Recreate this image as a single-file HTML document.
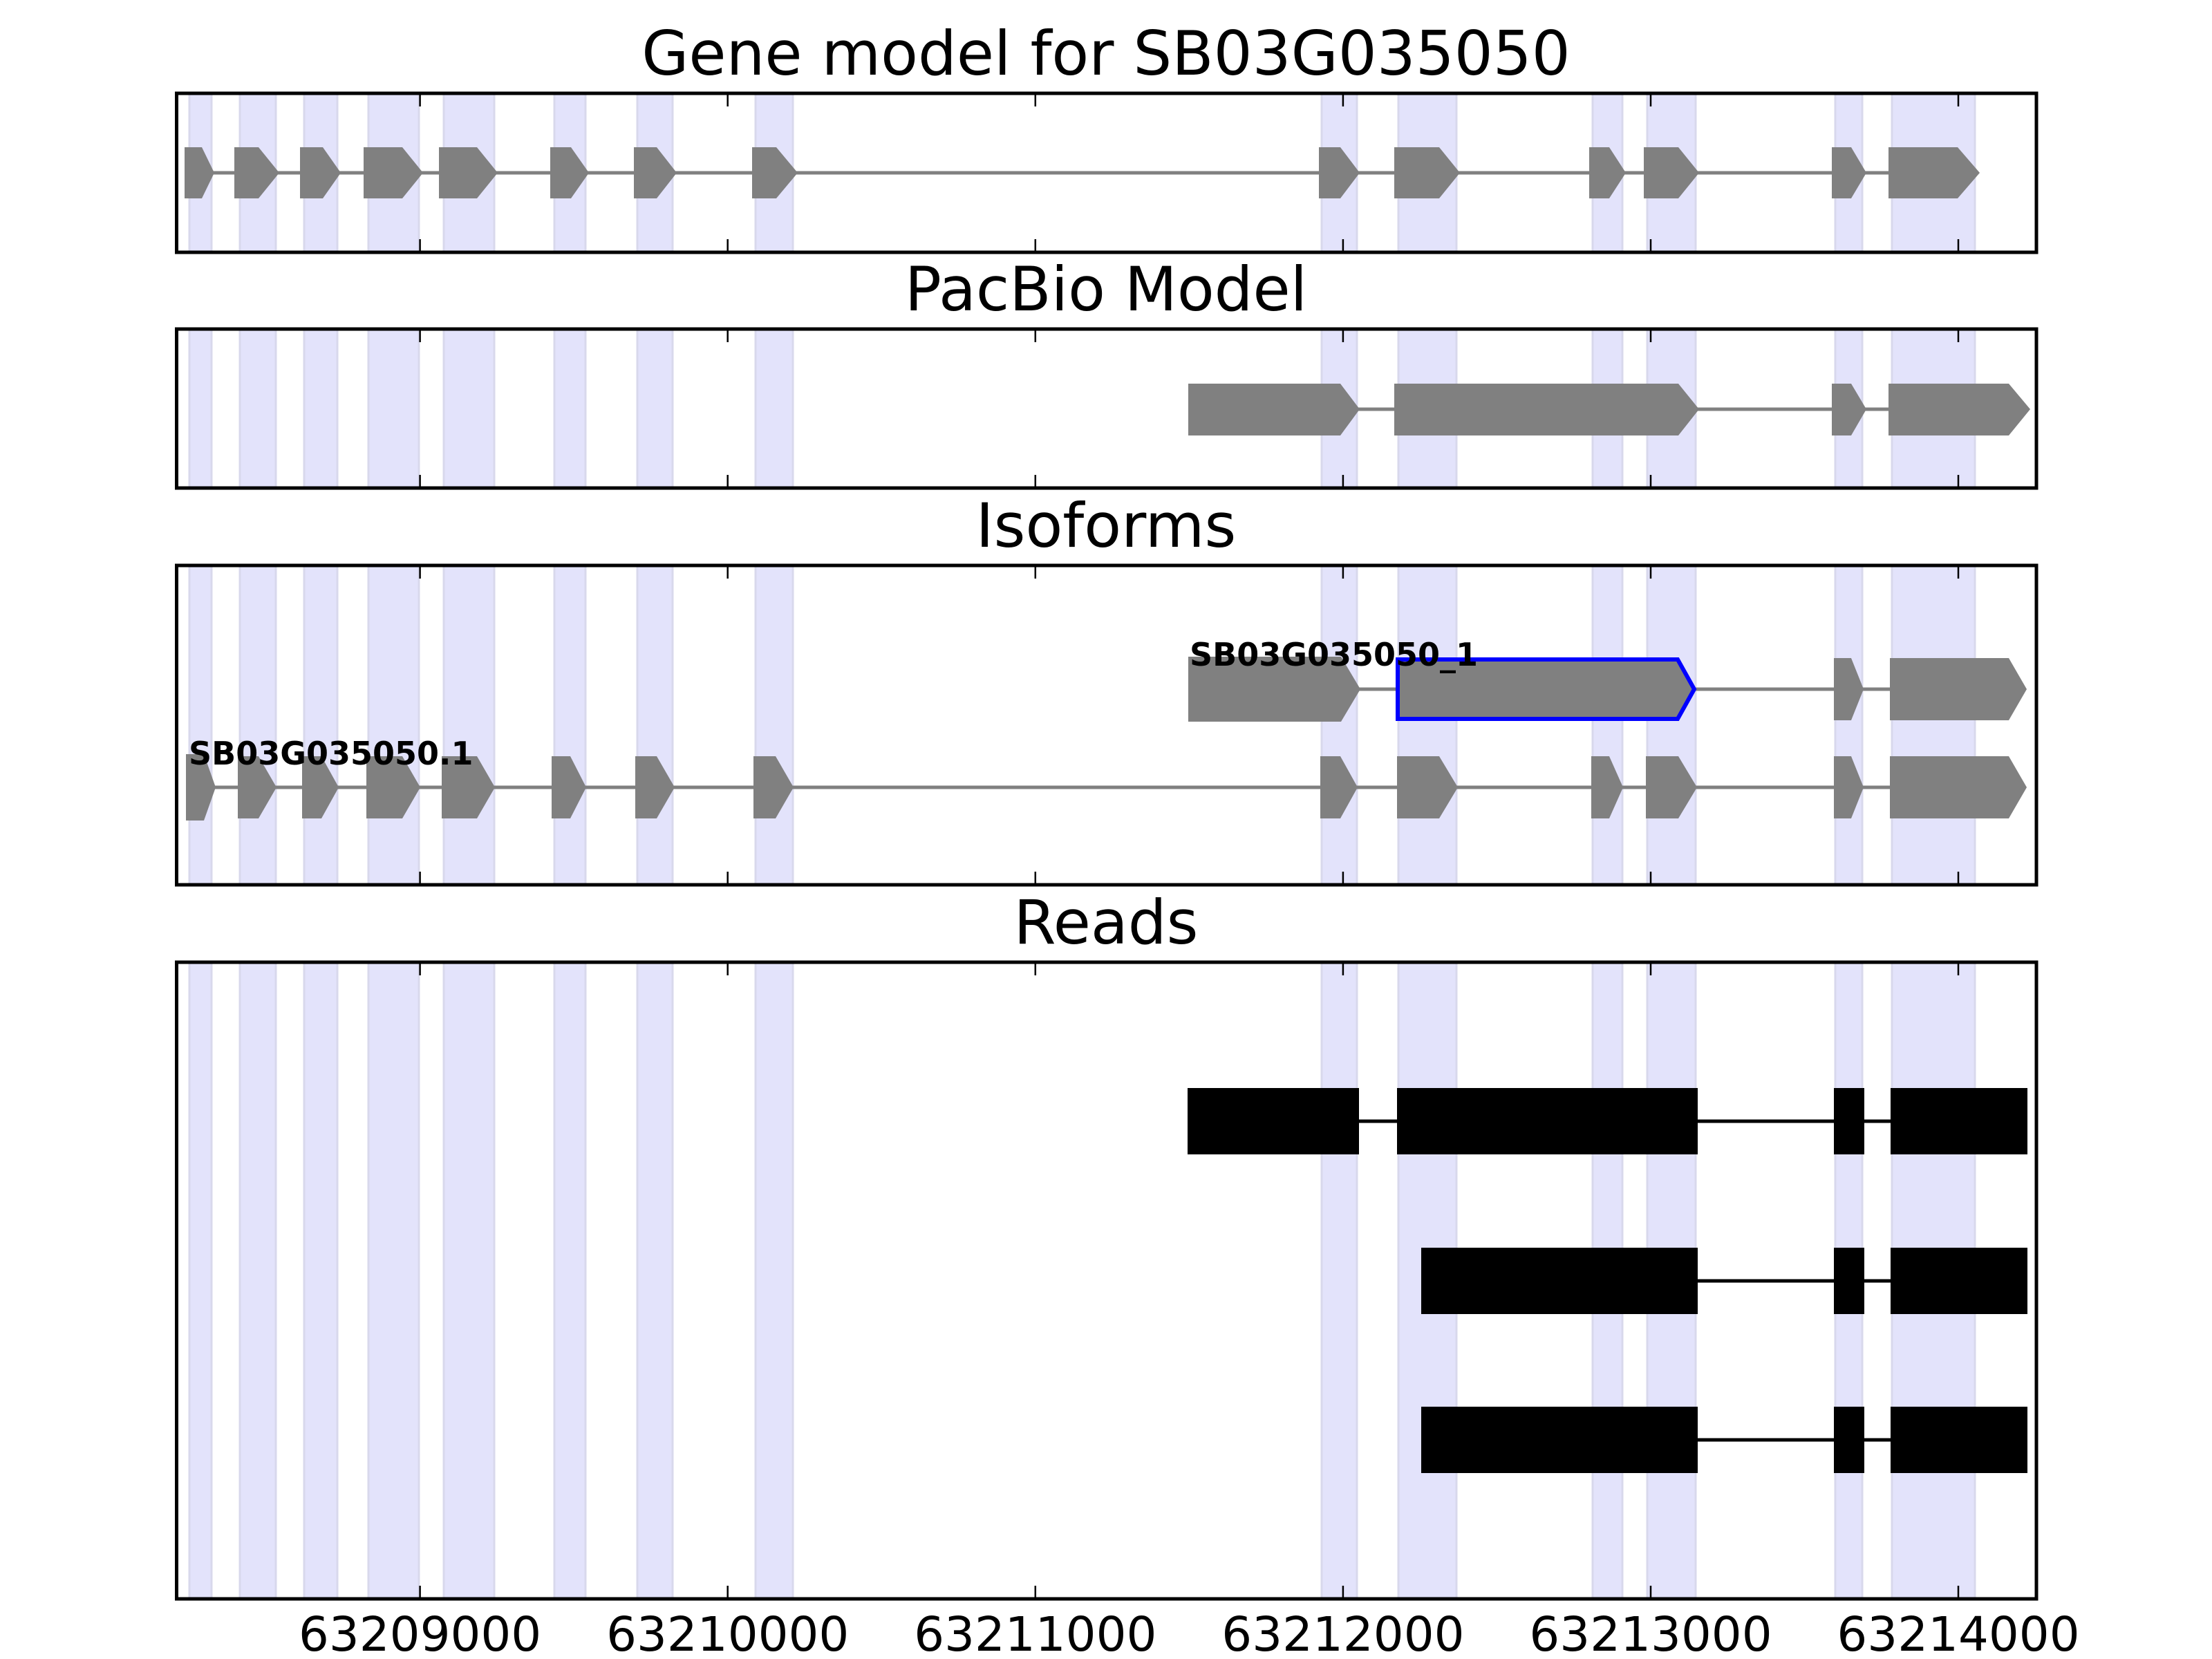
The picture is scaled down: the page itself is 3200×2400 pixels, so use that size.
<!DOCTYPE html>
<html><head><meta charset="utf-8"><style>
html,body{margin:0;padding:0;background:#fff;}
svg{display:block;}
text{font-family:"DejaVu Sans","Liberation Sans",sans-serif;}
</style></head><body>
<svg width="3200" height="2400" viewBox="0 0 3200 2400" xmlns="http://www.w3.org/2000/svg">
<rect width="3200" height="2400" fill="#fff"/>

<g font-size="88" text-anchor="middle" fill="#000">
<text x="1600" y="108">Gene model for SB03G035050</text>
<text x="1600" y="449">PacBio Model</text>
<text x="1600" y="791">Isoforms</text>
<text x="1600" y="1365">Reads</text>
</g>

<g fill="#e3e3fb" stroke="#d8d8ec" stroke-width="3">
<g>
<rect x="274" y="135" width="32" height="230"/><rect x="347" y="135" width="52" height="230"/><rect x="440" y="135" width="48" height="230"/><rect x="533" y="135" width="73" height="230"/><rect x="642" y="135" width="73" height="230"/><rect x="802" y="135" width="45" height="230"/><rect x="922" y="135" width="51" height="230"/><rect x="1093" y="135" width="54" height="230"/><rect x="1912" y="135" width="51" height="230"/><rect x="2023" y="135" width="84" height="230"/><rect x="2304" y="135" width="43" height="230"/><rect x="2383" y="135" width="70" height="230"/><rect x="2655" y="135" width="39" height="230"/><rect x="2737" y="135" width="120" height="230"/>
</g>
<g>
<rect x="274" y="476" width="32" height="230"/><rect x="347" y="476" width="52" height="230"/><rect x="440" y="476" width="48" height="230"/><rect x="533" y="476" width="73" height="230"/><rect x="642" y="476" width="73" height="230"/><rect x="802" y="476" width="45" height="230"/><rect x="922" y="476" width="51" height="230"/><rect x="1093" y="476" width="54" height="230"/><rect x="1912" y="476" width="51" height="230"/><rect x="2023" y="476" width="84" height="230"/><rect x="2304" y="476" width="43" height="230"/><rect x="2383" y="476" width="70" height="230"/><rect x="2655" y="476" width="39" height="230"/><rect x="2737" y="476" width="120" height="230"/>
</g>
<g>
<rect x="274" y="818" width="32" height="462"/><rect x="347" y="818" width="52" height="462"/><rect x="440" y="818" width="48" height="462"/><rect x="533" y="818" width="73" height="462"/><rect x="642" y="818" width="73" height="462"/><rect x="802" y="818" width="45" height="462"/><rect x="922" y="818" width="51" height="462"/><rect x="1093" y="818" width="54" height="462"/><rect x="1912" y="818" width="51" height="462"/><rect x="2023" y="818" width="84" height="462"/><rect x="2304" y="818" width="43" height="462"/><rect x="2383" y="818" width="70" height="462"/><rect x="2655" y="818" width="39" height="462"/><rect x="2737" y="818" width="120" height="462"/>
</g>
<g>
<rect x="274" y="1392" width="32" height="921"/><rect x="347" y="1392" width="52" height="921"/><rect x="440" y="1392" width="48" height="921"/><rect x="533" y="1392" width="73" height="921"/><rect x="642" y="1392" width="73" height="921"/><rect x="802" y="1392" width="45" height="921"/><rect x="922" y="1392" width="51" height="921"/><rect x="1093" y="1392" width="54" height="921"/><rect x="1912" y="1392" width="51" height="921"/><rect x="2023" y="1392" width="84" height="921"/><rect x="2304" y="1392" width="43" height="921"/><rect x="2383" y="1392" width="70" height="921"/><rect x="2655" y="1392" width="39" height="921"/><rect x="2737" y="1392" width="120" height="921"/>
</g>
</g>

<line x1="290" y1="250" x2="2740" y2="250" stroke="#808080" stroke-width="5"/>
<g fill="#808080">
<polygon points="267,213 292,213 310,250 292,287 267,287"/>
<polygon points="339,213 374,213 404,250 374,287 339,287"/>
<polygon points="434,213 467,213 493,250 467,287 434,287"/>
<polygon points="526,213 582,213 612,250 582,287 526,287"/>
<polygon points="635,213 690,213 720,250 690,287 635,287"/>
<polygon points="796,213 826,213 852,250 826,287 796,287"/>
<polygon points="917,213 950,213 979,250 950,287 917,287"/>
<polygon points="1088,213 1123,213 1154,250 1123,287 1088,287"/>
<polygon points="1908,213 1939,213 1967,250 1939,287 1908,287"/>
<polygon points="2017,213 2082,213 2112,250 2082,287 2017,287"/>
<polygon points="2299,213 2328,213 2352,250 2328,287 2299,287"/>
<polygon points="2378,213 2428,213 2458,250 2428,287 2378,287"/>
<polygon points="2650,213 2678,213 2700,250 2678,287 2650,287"/>
<polygon points="2732,213 2832,213 2864,250 2832,287 2732,287"/>
</g>

<line x1="1960" y1="592" x2="2740" y2="592" stroke="#808080" stroke-width="5"/>
<g fill="#808080">
<polygon points="1719,555 1939,555 1967,592 1939,630 1719,630"/>
<polygon points="2017,555 2428,555 2458,592 2428,630 2017,630"/>
<polygon points="2650,555 2678,555 2700,592 2678,630 2650,630"/>
<polygon points="2732,555 2906,555 2937,592 2906,630 2732,630"/>
</g>

<line x1="1960" y1="997" x2="2740" y2="997" stroke="#808080" stroke-width="5"/>
<line x1="300" y1="1139" x2="2740" y2="1139" stroke="#808080" stroke-width="5"/>
<g fill="#808080">
<polygon points="1719,950 1940,950 1968,997 1940,1044 1719,1044"/>
<polygon points="2653,952 2678,952 2696,997 2678,1042 2653,1042"/>
<polygon points="2734,952 2906,952 2932,997 2906,1042 2734,1042"/>
<polygon points="269,1091 295,1091 312,1139 295,1187 269,1187"/>
<polygon points="344,1094 374,1094 400,1139 374,1184 344,1184"/>
<polygon points="437,1094 465,1094 490,1139 465,1184 437,1184"/>
<polygon points="530,1094 582,1094 608,1139 582,1184 530,1184"/>
<polygon points="639,1094 690,1094 716,1139 690,1184 639,1184"/>
<polygon points="798,1094 825,1094 848,1139 825,1184 798,1184"/>
<polygon points="919,1094 950,1094 976,1139 950,1184 919,1184"/>
<polygon points="1090,1094 1122,1094 1148,1139 1122,1184 1090,1184"/>
<polygon points="1910,1094 1939,1094 1964,1139 1939,1184 1910,1184"/>
<polygon points="2021,1094 2082,1094 2109,1139 2082,1184 2021,1184"/>
<polygon points="2302,1094 2328,1094 2348,1139 2328,1184 2302,1184"/>
<polygon points="2381,1094 2428,1094 2455,1139 2428,1184 2381,1184"/>
<polygon points="2653,1094 2678,1094 2696,1139 2678,1184 2653,1184"/>
<polygon points="2734,1094 2906,1094 2932,1139 2906,1184 2734,1184"/>
</g>
<polygon points="2022,954 2427,954 2451,997 2427,1040 2022,1040" fill="#808080" stroke="#0000ff" stroke-width="6"/>
<g font-size="46" font-weight="bold" fill="#000">
<text x="1721" y="963">SB03G035050_1</text>
<text x="273" y="1106">SB03G035050.1</text>
</g>

<g stroke="#000" stroke-width="5">
<line x1="1960" y1="1622" x2="2740" y2="1622"/>
<line x1="2450" y1="1853" x2="2740" y2="1853"/>
<line x1="2450" y1="2083" x2="2740" y2="2083"/>
</g>
<g fill="#000">
<rect x="1718" y="1574" width="248" height="96"/>
<rect x="2021" y="1574" width="435" height="96"/>
<rect x="2653" y="1574" width="44" height="96"/>
<rect x="2735" y="1574" width="198" height="96"/>
<rect x="2056" y="1805" width="400" height="96"/>
<rect x="2653" y="1805" width="44" height="96"/>
<rect x="2735" y="1805" width="198" height="96"/>
<rect x="2056" y="2035" width="400" height="96"/>
<rect x="2653" y="2035" width="44" height="96"/>
<rect x="2735" y="2035" width="198" height="96"/>
</g>

<g fill="none" stroke="#000" stroke-width="5">
<rect x="255.5" y="135" width="2690.5" height="230"/>
<rect x="255.5" y="476" width="2690.5" height="230"/>
<rect x="255.5" y="818" width="2690.5" height="462"/>
<rect x="255.5" y="1392" width="2690.5" height="921"/>
</g>
<g stroke="#000" stroke-width="2.5">
<path d="M607.6 135v19M1052.7 135v19M1497.8 135v19M1942.9 135v19M2388 135v19M2833 135v19
M607.6 365v-19M1052.7 365v-19M1497.8 365v-19M1942.9 365v-19M2388 365v-19M2833 365v-19
M607.6 476v19M1052.7 476v19M1497.8 476v19M1942.9 476v19M2388 476v19M2833 476v19
M607.6 706v-19M1052.7 706v-19M1497.8 706v-19M1942.9 706v-19M2388 706v-19M2833 706v-19
M607.6 818v19M1052.7 818v19M1497.8 818v19M1942.9 818v19M2388 818v19M2833 818v19
M607.6 1280v-19M1052.7 1280v-19M1497.8 1280v-19M1942.9 1280v-19M2388 1280v-19M2833 1280v-19
M607.6 1392v19M1052.7 1392v19M1497.8 1392v19M1942.9 1392v19M2388 1392v19M2833 1392v19
M607.6 2313v-19M1052.7 2313v-19M1497.8 2313v-19M1942.9 2313v-19M2388 2313v-19M2833 2313v-19"/>
</g>
<g font-size="69" text-anchor="middle" fill="#000">
<text x="607.6" y="2388">63209000</text>
<text x="1052.7" y="2388">63210000</text>
<text x="1497.8" y="2388">63211000</text>
<text x="1942.9" y="2388">63212000</text>
<text x="2388" y="2388">63213000</text>
<text x="2833" y="2388">63214000</text>
</g>
</svg>
</body></html>
